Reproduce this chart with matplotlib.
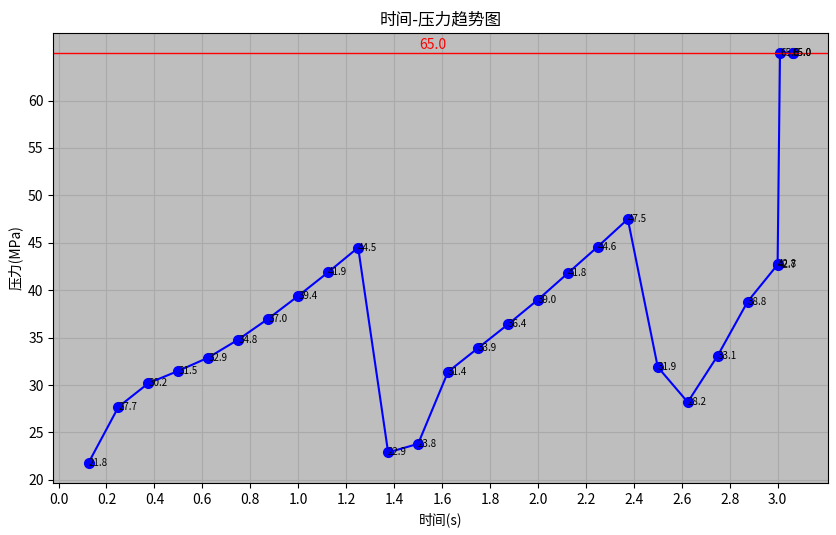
import matplotlib
matplotlib.use("Agg")
import matplotlib.pyplot as plt

plt.rcParams['font.family'] = ['Noto Sans CJK SC', 'DejaVu Sans']
plt.rcParams['axes.unicode_minus'] = False

times = [0.125, 0.25, 0.375, 0.5, 0.625, 0.75, 0.875, 1.0, 1.125, 1.25,
         1.375, 1.5, 1.625, 1.75, 1.875, 2.0, 2.125, 2.25, 2.375, 2.5,
         2.625, 2.75, 2.875, 3.0, 3.0, 3.01, 3.0625, 3.0625]
pressures = [21.8, 27.7, 30.2, 31.5, 32.9, 34.8, 37.0, 39.4, 41.9, 44.5,
             22.9, 23.8, 31.4, 33.9, 36.4, 39.0, 41.8, 44.6, 47.5, 31.9,
             28.2, 33.1, 38.8, 42.7, 42.8, 65.0, 65.0, 65.0]
threshold = 65.0
x_ticks = [0.0, 0.2, 0.4, 0.6, 0.8, 1.0, 1.2, 1.4, 1.6, 1.8, 2.0, 2.2, 2.4, 2.6, 2.8, 3.0]
y_ticks = [20, 25, 30, 35, 40, 45, 50, 55, 60]

fig = plt.figure(figsize=(8.37, 5.35), dpi=100)
ax = fig.add_axes([0.0637, 0.0966, 0.9253, 0.8424])
ax.set_facecolor('#bebebe')
ax.grid(True, color='#aaaaaa', linewidth=0.8)
ax.set_axisbelow(True)

ax.plot(times, pressures, color='blue', marker='o', markersize=7, linewidth=1.5)
for t, p in zip(times, pressures):
    ax.text(t, p, f'{p:.1f}', fontsize=7, ha='left', va='center', color='black')

ax.axhline(threshold, color='red', linewidth=1)
ax.text(1.56, threshold + 0.1, f'{threshold:.1f}', color='red', fontsize=10,
        ha='center', va='bottom')

ax.set_xticks(x_ticks)
ax.set_yticks(y_ticks)
ax.tick_params(labelsize=10)
ax.set_xlabel('时间(s)', fontsize=10)
ax.set_ylabel('压力(MPa)', fontsize=10)
ax.set_title('时间-压力趋势图', fontsize=12)

fig.savefig('out.png', dpi=100)
